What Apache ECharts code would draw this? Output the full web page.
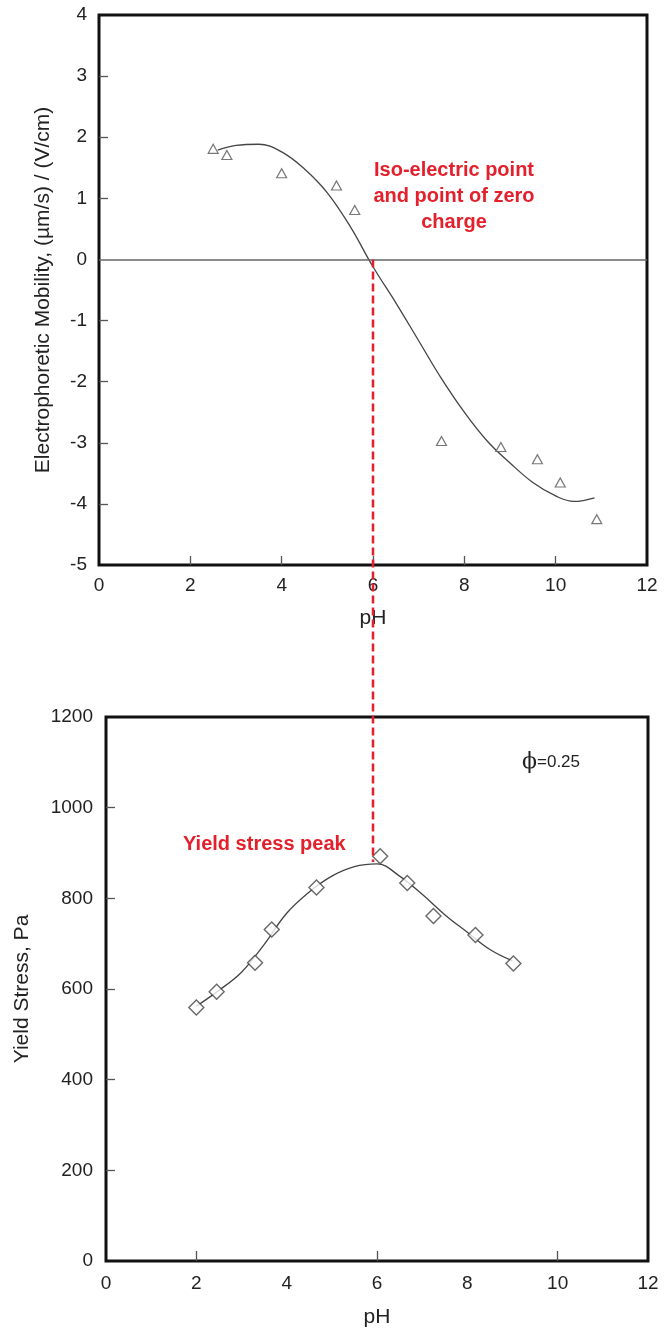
<!DOCTYPE html>
<html>
<head>
<meta charset="utf-8">
<script src="https://cdn.jsdelivr.net/npm/echarts@6/dist/echarts.min.js"></script>
<style>
  html, body { margin: 0; padding: 0; background: #fff; }
  #main { width: 665px; height: 1335px; }
</style>
</head>
<body>
<div id="main"></div>
<script>
// top panel: electrophoretic mobility vs pH
var phTop = [2.5, 2.8, 4.0, 5.2, 5.6, 7.5, 8.8, 9.6, 10.1, 10.9];
var mobility = [1.81, 1.71, 1.41, 1.21, 0.81, -2.97, -3.07, -3.27, -3.65, -4.25];
// fitted curve
var fitTopPH = [2.6, 3.0, 3.5, 4.0, 4.5, 5.0, 5.5, 6.0, 6.5, 7.0, 7.5, 8.0, 8.5, 9.0, 9.5, 10.0, 10.4, 10.85];
var fitTopMob = [1.79, 1.865, 1.885, 1.76, 1.48, 1.09, 0.54, -0.12, -0.71, -1.33, -1.95, -2.5, -2.97, -3.33, -3.65, -3.87, -3.96, -3.9];

// bottom panel: yield stress vs pH
var phBottom = [2.0, 2.45, 3.3, 3.67, 4.66, 6.07, 6.67, 7.25, 8.18, 9.02];
var yieldStress = [559, 594, 658, 731, 824, 893, 834, 761, 719, 656];
var fitBotPH = [2.0, 2.5, 3.0, 3.5, 4.0, 4.5, 5.0, 5.5, 6.0, 6.5, 7.0, 7.5, 8.0, 8.5, 9.0];
var fitBotStress = [562, 597, 637, 698, 767, 814, 849, 870, 876, 849, 809, 764, 725, 687, 662];

var topXTicks = [2, 4, 6, 8, 10];
var topYTicks = [-4, -3, -2, -1, 1, 2, 3];
var botXTicks = [2, 6, 10];
var botYTicks = [200, 400, 600, 800, 1000];

var iepPH = 6;        // iso-electric point
var peakStress = 880; // where the dashed line stops in the lower panel

var font = '"Liberation Sans", Arial, sans-serif';
var red = '#e3202b';

function pairs(xs, ys) {
  return xs.map(function (x, i) { return [x, ys[i]]; });
}

var chart = echarts.init(document.getElementById('main'));

var axisCommon = {
  axisLine: { show: false, onZero: false },
  splitLine: { show: false },
  axisTick: { inside: true, length: 9, lineStyle: { color: '#555', width: 1.3 } },
  axisLabel: { color: '#222', fontSize: 19, fontFamily: font, formatter: function (v) { return String(v); } },
  nameTextStyle: { color: '#222', fontSize: 21, fontFamily: font }
};

var option = {
  animation: false,
  backgroundColor: '#fff',
  grid: [
    { left: 99, top: 15, width: 548, height: 550, show: true, borderColor: '#111', borderWidth: 3 },
    { left: 106, top: 717, width: 542, height: 544, show: true, borderColor: '#111', borderWidth: 3 }
  ],
  xAxis: [
    Object.assign({}, axisCommon, {
      gridIndex: 0, type: 'value', min: 0, max: 12, interval: 2,
      name: 'pH', nameLocation: 'middle', nameGap: 43,
      axisTick: Object.assign({}, axisCommon.axisTick, { customValues: topXTicks }),
      axisLabel: Object.assign({}, axisCommon.axisLabel, { margin: 11 })
    }),
    Object.assign({}, axisCommon, {
      gridIndex: 1, type: 'value', min: 0, max: 12, interval: 2,
      name: 'pH', nameLocation: 'middle', nameGap: 46,
      axisTick: Object.assign({}, axisCommon.axisTick, { customValues: botXTicks, length: 10 }),
      axisLabel: Object.assign({}, axisCommon.axisLabel, { margin: 13 })
    })
  ],
  yAxis: [
    Object.assign({}, axisCommon, {
      gridIndex: 0, type: 'value', min: -5, max: 4, interval: 1,
      name: 'Electrophoretic Mobility, (\u00b5m/s) / (V/cm)', nameLocation: 'middle', nameGap: 45,
      axisTick: Object.assign({}, axisCommon.axisTick, { customValues: topYTicks }),
      axisLabel: Object.assign({}, axisCommon.axisLabel, { margin: 12 })
    }),
    Object.assign({}, axisCommon, {
      gridIndex: 1, type: 'value', min: 0, max: 1200, interval: 200,
      name: 'Yield Stress, Pa', nameLocation: 'middle', nameGap: 73,
      axisTick: Object.assign({}, axisCommon.axisTick, { customValues: botYTicks }),
      axisLabel: Object.assign({}, axisCommon.axisLabel, { margin: 13 })
    })
  ],
  series: [
    {
      name: 'fit mobility',
      type: 'line',
      xAxisIndex: 0, yAxisIndex: 0,
      data: pairs(fitTopPH, fitTopMob),
      smooth: 0.4,
      showSymbol: false,
      lineStyle: { color: '#444', width: 1.3 },
      markLine: {
        silent: true,
        symbol: 'none',
        label: { show: false },
        lineStyle: { color: '#666', width: 1.5, type: 'solid' },
        data: [{ yAxis: 0 }]
      },
      z: 3
    },
    {
      name: 'mobility',
      type: 'scatter',
      xAxisIndex: 0, yAxisIndex: 0,
      data: pairs(phTop, mobility),
      symbol: 'triangle',
      symbolSize: [10, 9],
      itemStyle: { color: '#fff', borderColor: '#555', borderWidth: 1.2 },
      z: 4
    },
    {
      name: 'fit yield',
      type: 'line',
      xAxisIndex: 1, yAxisIndex: 1,
      data: pairs(fitBotPH, fitBotStress),
      smooth: 0.4,
      showSymbol: false,
      lineStyle: { color: '#444', width: 1.3 },
      z: 3
    },
    {
      name: 'yield stress',
      type: 'scatter',
      xAxisIndex: 1, yAxisIndex: 1,
      data: pairs(phBottom, yieldStress),
      symbol: 'diamond',
      symbolSize: 15,
      itemStyle: { color: '#fff', borderColor: '#444', borderWidth: 1.4 },
      z: 4
    }
  ]
};

chart.setOption(option);

// dashed link between the two panels, placed through the axes
var pTop = chart.convertToPixel({ xAxisIndex: 0, yAxisIndex: 0 }, [iepPH, 0]);
var pBot = chart.convertToPixel({ xAxisIndex: 1, yAxisIndex: 1 }, [iepPH, peakStress]);

chart.setOption({
  graphic: [
    {
      type: 'line', z: 10,
      shape: { x1: pTop[0], y1: pTop[1], x2: pTop[0], y2: pBot[1] },
      style: { stroke: red, lineWidth: 2.5, lineDash: [8, 4] }
    },
    {
      type: 'text', z: 10, x: 454, y: 157,
      style: {
        text: 'Iso-electric point\nand point of zero\ncharge',
        fill: red, font: 'bold 20px ' + font, align: 'center', lineHeight: 26
      }
    },
    {
      type: 'text', z: 10, x: 183, y: 834,
      style: { text: 'Yield stress peak', fill: red, font: 'bold 20px ' + font }
    },
    {
      type: 'text', z: 10, x: 522, y: 751,
      style: {
        text: '{p|\u03d5}{v|=0.25}',
        rich: {
          p: { fontSize: 22, fontFamily: 'DejaVu Serif', fill: '#222', verticalAlign: 'middle' },
          v: { fontSize: 17, fontFamily: font, fill: '#222', verticalAlign: 'middle' }
        }
      }
    }
  ]
});
</script>
</body>
</html>
